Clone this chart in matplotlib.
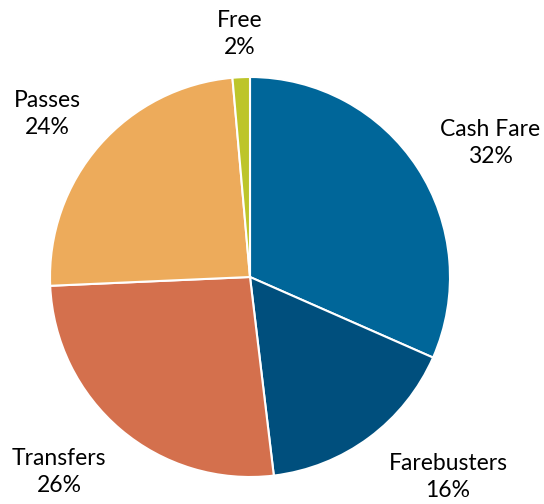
import matplotlib.pyplot as plt
import numpy as np

categories = ['Cash Fare', 'Farebusters', 'Transfers', 'Passes', 'Free']
shares = [31.6, 16.5, 26.2, 24.3, 1.4]
pct_labels = ['32%', '16%', '26%', '24%', '2%']
colors = ['#006699', '#004f7d', '#d4704d', '#edab5b', '#bdc52a']

plt.rcParams['font.family'] = ['Lato', 'DejaVu Sans']

fig = plt.figure(figsize=(5.44, 5.04), dpi=100)
ax = fig.add_axes([0, 0, 1, 1])
wedges, _ = ax.pie(shares, colors=colors, startangle=90, counterclock=False,
                   wedgeprops=dict(edgecolor='white', linewidth=1.5))

# label positions (pie radius = 1)
label_xy = [(1.2, 0.67), (0.99, -1.0), (-0.955, -0.975), (-1.015, 0.815), (-0.05, 1.215)]
for cat, pct, (x, y) in zip(categories, pct_labels, label_xy):
    ax.text(x, y, cat + '\n' + pct, ha='center', va='center',
            fontsize=16.5, linespacing=1.3)

ax.set_xlim(-1.25, 1.47)
ax.set_ylim(-1.135, 1.385)
ax.axis('off')
fig.savefig('out.png', dpi=100)
